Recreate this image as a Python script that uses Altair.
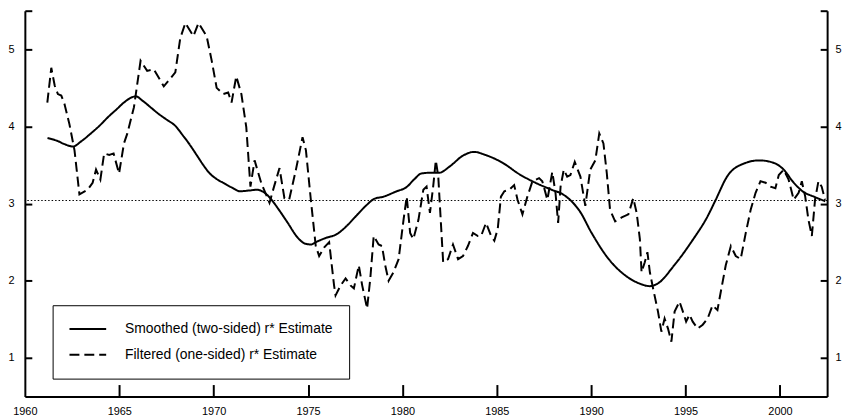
import altair as alt
import pandas as pd

# ---- data ----
smoothed_year = [1961.2, 1961.75, 1962.1, 1962.55, 1963.0, 1963.5, 1964.0, 1964.4, 1964.85, 1965.25,
                 1965.6, 1965.87, 1966.25, 1966.7, 1967.1, 1967.5, 1968.0, 1968.35, 1968.6, 1969.1,
                 1969.45, 1969.8, 1970.15, 1970.5, 1970.95, 1971.4, 1971.9, 1972.3, 1972.75, 1973.1,
                 1973.4, 1973.9, 1974.45, 1974.85, 1975.15, 1975.5, 1976.0, 1976.5, 1977.05, 1977.55,
                 1978.1, 1978.5, 1979.0, 1979.7, 1980.2, 1980.65, 1981.0, 1981.5, 1981.95, 1982.5,
                 1983.2, 1983.8, 1984.4, 1985.3, 1986.2, 1987.05, 1987.9, 1988.5, 1989.0, 1989.4,
                 1990.0, 1990.9, 1991.8, 1992.6, 1993.1, 1993.5, 1994.4, 1995.3, 1996.2, 1996.6,
                 1997.2, 1998.1, 1998.9, 1999.65, 2000.2, 2000.7, 2001.25, 2001.8, 2002.4]
smoothed_value = [3.85, 3.81, 3.77, 3.74, 3.81, 3.91, 4.02, 4.12, 4.22, 4.31,
                  4.37, 4.39, 4.33, 4.24, 4.16, 4.09, 4.00, 3.89, 3.81, 3.63,
                  3.50, 3.39, 3.32, 3.27, 3.21, 3.16, 3.17, 3.18, 3.13, 3.04,
                  2.94, 2.76, 2.56, 2.48, 2.47, 2.51, 2.56, 2.60, 2.71, 2.84,
                  2.98, 3.06, 3.09, 3.16, 3.21, 3.32, 3.39, 3.40, 3.40, 3.48,
                  3.62, 3.67, 3.63, 3.53, 3.38, 3.27, 3.18, 3.12, 3.02, 2.90,
                  2.63, 2.29, 2.07, 1.96, 1.93, 1.96, 2.20, 2.50, 2.85, 3.05,
                  3.35, 3.52, 3.56, 3.53, 3.44, 3.28, 3.15, 3.09, 3.03]

filtered_year = [1961.19, 1961.4, 1961.58, 1961.75, 1961.93, 1962.1, 1962.36, 1962.63, 1962.89, 1963.33,
                 1963.59, 1963.77, 1964.0, 1964.2, 1964.47, 1964.7, 1964.99, 1965.25, 1965.43, 1965.78,
                 1966.13, 1966.48, 1966.83, 1967.36, 1967.97, 1968.23, 1968.5, 1968.93, 1969.2, 1969.63,
                 1969.9, 1970.16, 1970.51, 1970.77, 1970.95, 1971.2, 1971.47, 1971.73, 1971.95, 1972.17,
                 1972.52, 1972.96, 1973.2, 1973.49, 1973.75, 1974.0, 1974.36, 1974.71, 1974.89, 1975.15,
                 1975.41, 1975.59, 1975.85, 1976.12, 1976.38, 1976.46, 1976.73, 1976.99, 1977.25, 1977.43,
                 1977.69, 1977.87, 1978.13, 1978.3, 1978.48, 1978.74, 1978.92, 1979.09, 1979.27, 1979.53,
                 1979.8, 1980.06, 1980.23, 1980.41, 1980.58, 1980.85, 1981.11, 1981.28, 1981.46, 1981.63,
                 1981.77, 1981.9, 1982.07, 1982.16, 1982.42, 1982.68, 1982.95, 1983.21, 1983.47, 1983.74,
                 1984.0, 1984.17, 1984.43, 1984.7, 1984.87, 1985.05, 1985.22, 1985.4, 1985.66, 1985.92,
                 1986.1, 1986.36, 1986.62, 1986.89, 1987.24, 1987.41, 1987.68, 1987.94, 1988.11, 1988.25,
                 1988.38, 1988.55, 1988.73, 1988.9, 1989.13, 1989.43, 1989.69, 1989.95, 1990.22, 1990.43,
                 1990.65, 1990.83, 1991.0, 1991.27, 1991.62, 1991.97, 1992.23, 1992.41, 1992.58, 1992.67,
                 1992.84, 1992.98, 1993.11, 1993.28, 1993.54, 1993.72, 1993.89, 1994.07, 1994.25, 1994.42,
                 1994.68, 1994.86, 1995.03, 1995.21, 1995.38, 1995.64, 1995.91, 1996.17, 1996.43, 1996.69,
                 1996.87, 1997.13, 1997.4, 1997.66, 1997.92, 1998.19, 1998.45, 1998.71, 1998.97, 1999.24,
                 1999.5, 1999.76, 1999.94, 2000.2, 2000.46, 2000.73, 2000.99, 2001.16, 2001.34, 2001.51,
                 2001.69, 2001.86, 2002.04, 2002.21, 2002.39]
filtered_value = [4.31, 4.76, 4.53, 4.42, 4.40, 4.29, 4.03, 3.69, 3.12, 3.18,
                  3.27, 3.44, 3.31, 3.65, 3.63, 3.65, 3.39, 3.78, 3.91, 4.25,
                  4.85, 4.72, 4.74, 4.52, 4.70, 5.14, 5.34, 5.17, 5.34, 5.17,
                  4.85, 4.50, 4.42, 4.44, 4.31, 4.65, 4.42, 3.99, 3.22, 3.56,
                  3.27, 3.01, 3.22, 3.46, 3.07, 3.05, 3.44, 3.86, 3.69, 3.05,
                  2.45, 2.32, 2.43, 2.50, 1.94, 1.81, 1.94, 2.03, 1.94, 1.90,
                  2.20, 1.94, 1.64, 2.03, 2.58, 2.47, 2.45, 2.20, 2.00, 2.11,
                  2.28, 2.79, 3.09, 2.62, 2.54, 2.79, 3.18, 3.22, 2.88, 3.22,
                  3.56, 3.35, 2.62, 2.24, 2.28, 2.47, 2.28, 2.32, 2.45, 2.62,
                  2.58, 2.58, 2.75, 2.58, 2.52, 2.67, 3.09, 3.16, 3.18, 3.24,
                  3.05, 2.86, 3.09, 3.29, 3.33, 3.29, 3.05, 3.41, 3.14, 2.75,
                  3.22, 3.44, 3.35, 3.37, 3.54, 3.35, 2.97, 3.44, 3.56, 3.91,
                  3.78, 3.39, 2.92, 2.77, 2.82, 2.86, 3.07, 2.88, 2.54, 2.11,
                  2.24, 2.37, 2.11, 1.90, 1.60, 1.34, 1.51, 1.38, 1.21, 1.60,
                  1.73, 1.60, 1.47, 1.56, 1.47, 1.38, 1.43, 1.51, 1.68, 1.62,
                  1.86, 2.20, 2.45, 2.32, 2.28, 2.62, 2.92, 3.14, 3.29, 3.27,
                  3.22, 3.20, 3.37, 3.44, 3.31, 3.05, 3.14, 3.29, 3.09, 2.79,
                  2.58, 3.05, 3.29, 3.22, 3.05]

series_names = ["Smoothed (two-sided) r* Estimate", "Filtered (one-sided) r* Estimate"]
reference_level = [3.04]
x_tick_years = [1960, 1965, 1970, 1975, 1980, 1985, 1990, 1995, 2000]
inner_tick_years = [1965, 1970, 1975, 1980, 1985, 1990, 1995, 2000]
y_tick_values = [1, 2, 3, 4, 5]
y_cap_values = [1, 2, 3, 4, 5, 5.5]

# ---- tables ----
smoothed = pd.DataFrame({"year": smoothed_year, "value": smoothed_value, "series": series_names[0]})
filtered = pd.DataFrame({"year": filtered_year, "value": filtered_value, "series": series_names[1]})
ref = pd.DataFrame({"value": reference_level})
anchor = pd.DataFrame({"year": [1980.0], "value": [3.0]})

W, H = 809, 389
FONT = "Liberation Sans"
xs = alt.Scale(domain=[1960, 2002.5], nice=False, zero=False)
ys = alt.Scale(domain=[0.5, 5.5], nice=False, zero=False)
dash_scale = alt.Scale(domain=series_names, range=[[1, 0], [10, 5]])

common_axis = dict(grid=False, title=None, labelFont=FONT, labelFontSize=11, labelColor="black",
                   domainColor="black", tickColor="black")

legend = alt.Legend(orient="none", legendX=28, legendY=297, title=None,
                    symbolType="stroke", symbolSize=1369, symbolStrokeWidth=2,
                    symbolStrokeColor="black", clipHeight=16, rowPadding=10,
                    labelOffset=18, labelFont=FONT, labelFontSize=14, labelLimit=0,
                    labelColor="black", padding=16, strokeColor="black", fillColor="white")

# layer 1: smoothed series, bottom x labels, left y labels
smooth_layer = alt.Chart(smoothed).mark_line(strokeWidth=2, color="black", interpolate="monotone").encode(
    x=alt.X("year:Q", scale=xs,
            axis=alt.Axis(orient="bottom", values=x_tick_years, format="d", ticks=False, tickSize=0,
                          labelPadding=9, domainWidth=2, labelFlush=False, labelOverlap=False, **common_axis)),
    y=alt.Y("value:Q", scale=ys,
            axis=alt.Axis(orient="left", values=y_tick_values, format="d", ticks=False, tickSize=0,
                          labelPadding=11, domainWidth=2, labelOverlap=False, **common_axis)),
    strokeDash=alt.StrokeDash("series:N", scale=dash_scale, sort=series_names, legend=legend),
)

# layer 2: filtered series
filt_layer = alt.Chart(filtered).mark_line(strokeWidth=2, color="black", interpolate="linear").encode(
    x=alt.X("year:Q", scale=xs, axis=None),
    y=alt.Y("value:Q", scale=ys, axis=None),
    strokeDash=alt.StrokeDash("series:N", scale=dash_scale, sort=series_names, legend=legend),
)

# layer 3: dotted reference line, right y labels
ref_layer = alt.Chart(ref).mark_rule(color="black", strokeWidth=1, strokeDash=[1.5, 2]).encode(
    y=alt.Y("value:Q", scale=ys,
            axis=alt.Axis(orient="right", values=y_tick_values, format="d", ticks=False, tickSize=0,
                          labelPadding=8, domainWidth=2, labelOverlap=False, **common_axis)),
)

# layer 4: inward ticks on the bottom and on the left edge
ticks_a = alt.Chart(anchor).mark_point(opacity=0).encode(
    x=alt.X("year:Q", scale=xs,
            axis=alt.Axis(orient="top", offset=-H, values=inner_tick_years, labels=False, domain=False,
                          tickSize=12, tickWidth=2, grid=False, title=None, tickColor="black")),
    y=alt.Y("value:Q", scale=ys,
            axis=alt.Axis(orient="right", offset=-W, values=y_cap_values, labels=False, domain=False,
                          tickSize=7, tickWidth=2, grid=False, title=None, tickColor="black")),
)

# layer 5: inward ticks on the right edge
ticks_b = alt.Chart(anchor).mark_point(opacity=0).encode(
    y=alt.Y("value:Q", scale=ys,
            axis=alt.Axis(orient="left", offset=-W, values=y_cap_values, labels=False, domain=False,
                          tickSize=7, tickWidth=2, grid=False, title=None, tickColor="black")),
)

chart = alt.layer(smooth_layer, filt_layer, ref_layer, ticks_a, ticks_b).resolve_scale(
    x="independent", y="independent"
).properties(
    width=W, height=H,
    autosize=alt.AutoSizeParams(type="none"),
    padding={"left": 17, "top": 1, "right": 15, "bottom": 22},
    background="white",
).configure_view(stroke=None)

chart.save("out.html", embed_options={"renderer": "svg", "actions": False})
